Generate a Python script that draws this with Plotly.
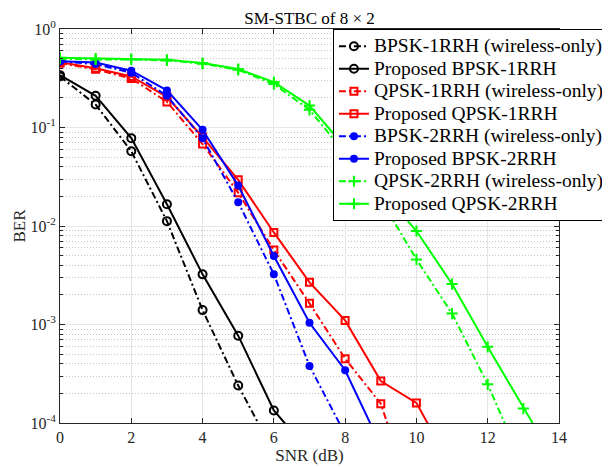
import plotly.graph_objects as go

# ---------------- data ----------------
snr_bpsk1_wo = [0, 1, 2, 3, 4, 5, 6]
ber_bpsk1_wo = [0.33, 0.171, 0.0574, 0.0112, 0.0014, 2.4e-4, 5e-5]

snr_bpsk1_prop = [0, 1, 2, 3, 4, 5, 6, 7]
ber_bpsk1_prop = [0.34, 0.21, 0.078, 0.0166, 0.00323, 7.7e-4, 1.34e-4, 5.1e-5]

snr_qpsk1_wo = [0, 1, 2, 3, 4, 5, 6, 7, 8, 9, 10]
ber_qpsk1_wo = [0.45, 0.39, 0.315, 0.182, 0.068, 0.0218, 0.0057, 0.00164, 4.5e-4, 1.57e-4, 1.3e-5]

snr_qpsk1_prop = [0, 1, 2, 3, 4, 5, 6, 7, 8, 9, 10, 11]
ber_qpsk1_prop = [0.46, 0.40, 0.33, 0.205, 0.08, 0.0294, 0.0086, 0.00268, 0.0011, 2.67e-4, 1.6e-4, 3.5e-5]

snr_bpsk2_wo = [0, 1, 2, 3, 4, 5, 6, 7, 8]
ber_bpsk2_wo = [0.47, 0.44, 0.36, 0.21, 0.0776, 0.0174, 0.00323, 3.8e-4, 7.7e-5]

snr_bpsk2_prop = [0, 1, 2, 3, 4, 5, 6, 7, 8, 9]
ber_bpsk2_prop = [0.47, 0.457, 0.377, 0.238, 0.0946, 0.0257, 0.00496, 0.00104, 3.43e-4, 5.9e-5]

snr_qpsk2_wo = [0, 1, 2, 3, 4, 5, 6, 7, 8, 9, 10, 11, 12, 13]
ber_qpsk2_wo = [0.50, 0.49, 0.49, 0.48, 0.445, 0.385, 0.276, 0.151, 0.055, 0.0186, 0.00458, 0.00129, 2.47e-4, 3.7e-5]

snr_qpsk2_prop = [0, 1, 2, 3, 4, 5, 6, 7, 8, 9, 10, 11, 12, 13, 14]
ber_qpsk2_prop = [0.51, 0.50, 0.495, 0.487, 0.451, 0.392, 0.289, 0.167, 0.063, 0.024, 0.0089, 0.00257, 5.93e-4, 1.4e-4, 3.5e-5]

legend_names = [
    "BPSK-1RRH (wireless-only)",
    "Proposed BPSK-1RRH",
    "QPSK-1RRH (wireless-only)",
    "Proposed QPSK-1RRH",
    "BPSK-2RRH (wireless-only)",
    "Proposed BPSK-2RRH",
    "QPSK-2RRH (wireless-only)",
    "Proposed QPSK-2RRH",
]

x_ticks = [0, 2, 4, 6, 8, 10, 12, 14]
y_tick_vals = [1e-4, 1e-3, 1e-2, 1e-1, 1]
y_tick_text = ["10<sup>-4</sup>", "10<sup>-3</sup>", "10<sup>-2</sup>", "10<sup>-1</sup>", "10<sup>0</sup>"]

title_text = "SM-STBC of 8 \u00d7 2"
x_title = "SNR (dB)"
y_title = "BER"

# ---------------- styles ----------------
FONT = "Liberation Serif"
DASHDOT = "7px,3px,2px,3px"
LEGEND_TEXT_PX = 19.5

series = [
    (snr_bpsk1_wo, ber_bpsk1_wo, "black", DASHDOT, "circle-open", 8),
    (snr_bpsk1_prop, ber_bpsk1_prop, "black", "solid", "circle-open", 8),
    (snr_qpsk1_wo, ber_qpsk1_wo, "#ff0000", DASHDOT, "square-open", 7),
    (snr_qpsk1_prop, ber_qpsk1_prop, "#ff0000", "solid", "square-open", 7),
    (snr_bpsk2_wo, ber_bpsk2_wo, "#0000ff", DASHDOT, "circle", 6),
    (snr_bpsk2_prop, ber_bpsk2_prop, "#0000ff", "solid", "circle", 6),
    (snr_qpsk2_wo, ber_qpsk2_wo, "#00ff00", DASHDOT, "cross-thin-open", 8),
    (snr_qpsk2_prop, ber_qpsk2_prop, "#00ff00", "solid", "cross-thin-open", 8),
]

fig = go.Figure()
for (xs, ys, color, dash, sym, size), name in zip(series, legend_names):
    fig.add_trace(go.Scatter(
        x=xs, y=ys,
        name='<span style="font-size:%spx">%s</span>' % (LEGEND_TEXT_PX, name),
        mode="lines+markers",
        line=dict(color=color, width=2, dash=dash),
        marker=dict(symbol=sym, size=size, color=color,
                    line=dict(color=color, width=2)),
    ))

minor_vals = [m * 10 ** e for e in range(-4, 0) for m in range(2, 10)]

# page body adds an 8px offset; margins compensate so the plot area lands
# at x 60..559, y 29..423 in the window
fig.update_layout(
    width=610, height=468,
    margin=dict(l=52.4, r=58.5, t=21.3, b=53.3, autoexpand=False),
    paper_bgcolor="white", plot_bgcolor="white",
    font=dict(family=FONT, size=16, color="#262626"),
    title=dict(text=title_text, x=0.5, xref="paper", xanchor="center",
               y=1 - 10 / 468, yanchor="middle",
               font=dict(family=FONT, size=17, color="black")),
    showlegend=True,
    legend=dict(
        x=0.547, y=1, xanchor="left", yanchor="top",
        bgcolor="white", bordercolor="black", borderwidth=1,
        font=dict(family=FONT, size=15, color="black"),
        tracegroupgap=0, itemwidth=30,
    ),
    xaxis=dict(
        range=[0, 14], tickvals=x_ticks, ticks="inside", ticklen=5,
        tickcolor="#262626", showline=True, linecolor="#262626", linewidth=1,
        mirror="ticks", showgrid=True, gridcolor="#e6e6e6", gridwidth=1,
        zeroline=False,
        title=dict(text=x_title, font=dict(family=FONT, size=17), standoff=3),
        tickfont=dict(family=FONT, size=16, color="#262626"),
    ),
    yaxis=dict(
        type="log", range=[-4, 0], tickmode="array",
        tickvals=y_tick_vals, ticktext=y_tick_text,
        ticks="inside", ticklen=5, tickcolor="#262626",
        showline=True, linecolor="#262626", linewidth=1, mirror="ticks",
        showgrid=True, gridcolor="#e6e6e6", gridwidth=1, zeroline=False,
        minor=dict(tickmode="array", tickvals=minor_vals, ticks="inside",
                   ticklen=3, tickcolor="#262626", showgrid=True,
                   gridcolor="#c4c4c4", griddash="1px,2px", gridwidth=1),
        title=dict(text=y_title, font=dict(family=FONT, size=17), standoff=0),
        tickfont=dict(family=FONT, size=16, color="#262626"),
    ),
)

fig.write_html("out.html")
